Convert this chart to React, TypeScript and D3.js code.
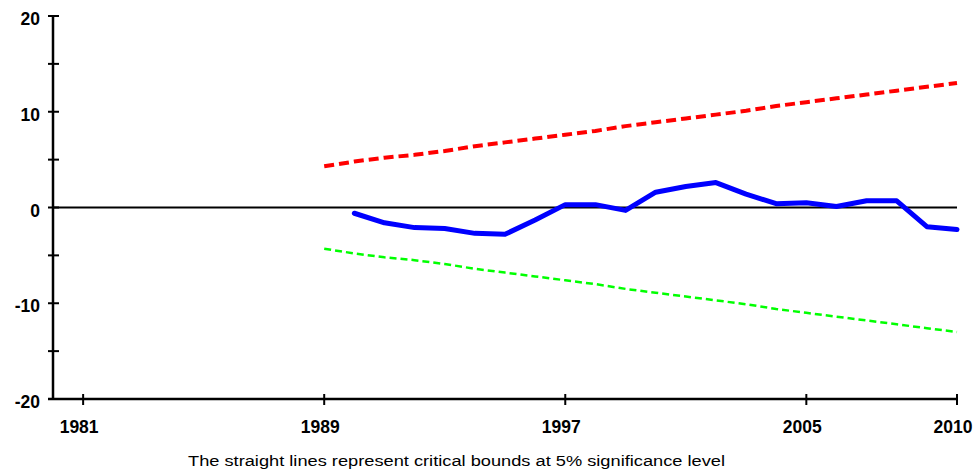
import { useEffect, useRef } from 'react';
import * as d3 from 'd3';

// cusum statistic by year
const cusum_years = [1990, 1991, 1992, 1993, 1994, 1995, 1996, 1997, 1998, 1999, 2000,
    2001, 2002, 2003, 2004, 2005, 2006, 2007, 2008, 2009, 2010];
const cusum_values = [-0.6, -1.6, -2.1, -2.2, -2.7, -2.8, -1.3, 0.3, 0.3, -0.3, 1.6,
    2.2, 2.6, 1.4, 0.4, 0.5, 0.1, 0.7, 0.7, -2.0, -2.3];

// 5% critical bounds
const bound_years = [1989, 1990, 1991, 1992, 1993, 1994, 1995, 1996, 1997, 1998, 1999,
    2000, 2001, 2002, 2003, 2004, 2005, 2006, 2007, 2008, 2009, 2010];
const upper_bound = [4.3, 4.8, 5.2, 5.5, 5.9, 6.4, 6.8, 7.2, 7.6, 8.0, 8.5,
    8.9, 9.3, 9.7, 10.1, 10.6, 11.0, 11.4, 11.8, 12.2, 12.6, 13.0];
const lower_bound = [-4.3, -4.8, -5.2, -5.5, -5.9, -6.4, -6.8, -7.2, -7.6, -8.0, -8.5,
    -8.9, -9.3, -9.7, -10.1, -10.6, -11.0, -11.4, -11.8, -12.2, -12.6, -13.0];

// axis ticks
const x_tick_years = [1981, 1989, 1997, 2005, 2010];
const y_tick_values = [-20, -15, -10, -5, 0, 5, 10, 15, 20];
const y_label_values = [-20, -10, 0, 10, 20];

const caption = "The straight lines represent critical bounds at 5% significance level";

export default function App() {
    const svg_ref = useRef(null);

    useEffect(() => {
        const width = 977;
        const height = 472;
        const font = "Liberation Sans, Arial, sans-serif";

        const svg = d3.select(svg_ref.current);
        svg.selectAll("*").remove();
        svg.attr("width", width).attr("height", height);

        // scales
        const x_scale = d3.scaleLinear().domain([1980, 2010]).range([53, 957]);
        const y_scale = d3.scaleLinear().domain([-20, 20]).range([399, 16]);

        const axis_color = "#000";

        // zero line
        svg.append("line")
            .attr("x1", x_scale(1980)).attr("x2", x_scale(2010))
            .attr("y1", y_scale(0)).attr("y2", y_scale(0))
            .attr("stroke", axis_color)
            .attr("stroke-width", 2);

        // y axis
        svg.append("line")
            .attr("x1", x_scale(1980)).attr("x2", x_scale(1980))
            .attr("y1", y_scale(-20)).attr("y2", y_scale(20))
            .attr("stroke", axis_color)
            .attr("stroke-width", 2.5);

        svg.selectAll(".y-tick")
            .data(y_tick_values).enter()
            .append("line")
            .attr("class", "y-tick")
            .attr("x1", x_scale(1980) - 5).attr("x2", x_scale(1980) + 6)
            .attr("y1", d => y_scale(d)).attr("y2", d => y_scale(d))
            .attr("stroke", axis_color)
            .attr("stroke-width", 2);

        svg.selectAll(".y-label")
            .data(y_label_values).enter()
            .append("text")
            .attr("class", "y-label")
            .attr("x", 40)
            .attr("y", d => y_scale(d) + 9)
            .attr("text-anchor", "end")
            .style("font-family", font)
            .style("font-weight", "bold")
            .style("font-size", "17.5px")
            .text(d => d);

        // x axis
        svg.append("line")
            .attr("x1", x_scale(1980) - 5).attr("x2", x_scale(2010))
            .attr("y1", y_scale(-20)).attr("y2", y_scale(-20))
            .attr("stroke", axis_color)
            .attr("stroke-width", 2.5);

        svg.selectAll(".x-tick")
            .data(x_tick_years).enter()
            .append("line")
            .attr("class", "x-tick")
            .attr("x1", d => x_scale(d)).attr("x2", d => x_scale(d))
            .attr("y1", y_scale(-20) - 5).attr("y2", y_scale(-20) + 6)
            .attr("stroke", axis_color)
            .attr("stroke-width", 2);

        svg.selectAll(".x-label")
            .data(x_tick_years).enter()
            .append("text")
            .attr("class", "x-label")
            .attr("x", d => x_scale(d) - 4)
            .attr("y", 433)
            .attr("text-anchor", "middle")
            .style("font-family", font)
            .style("font-weight", "bold")
            .style("font-size", "17.5px")
            .text(d => d);

        // bounds
        const bound_line = d3.line()
            .x((d, i) => x_scale(bound_years[i]))
            .y(d => y_scale(d));

        svg.append("path")
            .attr("d", bound_line(upper_bound))
            .attr("fill", "none")
            .attr("stroke", "#ff0000")
            .attr("stroke-width", 4)
            .attr("stroke-dasharray", "10,5");

        svg.append("path")
            .attr("d", bound_line(lower_bound))
            .attr("fill", "none")
            .attr("stroke", "#00ff00")
            .attr("stroke-width", 2.5)
            .attr("stroke-dasharray", "7,4");

        // cusum line
        const cusum_line = d3.line()
            .x((d, i) => x_scale(cusum_years[i]))
            .y(d => y_scale(d));

        svg.append("path")
            .attr("d", cusum_line(cusum_values))
            .attr("fill", "none")
            .attr("stroke", "#0000ff")
            .attr("stroke-width", 5)
            .attr("stroke-linejoin", "round")
            .attr("stroke-linecap", "round");

        // caption
        svg.append("text")
            .attr("x", 188)
            .attr("y", 466)
            .style("font-family", font)
            .style("font-size", "15.5px")
            .attr("textLength", 537)
            .attr("lengthAdjust", "spacingAndGlyphs")
            .text(caption);
    }, []);

    return (
        <svg ref={svg_ref} style={{ position: "absolute", left: 0, top: 0, background: "#fff" }}></svg>
    );
}
